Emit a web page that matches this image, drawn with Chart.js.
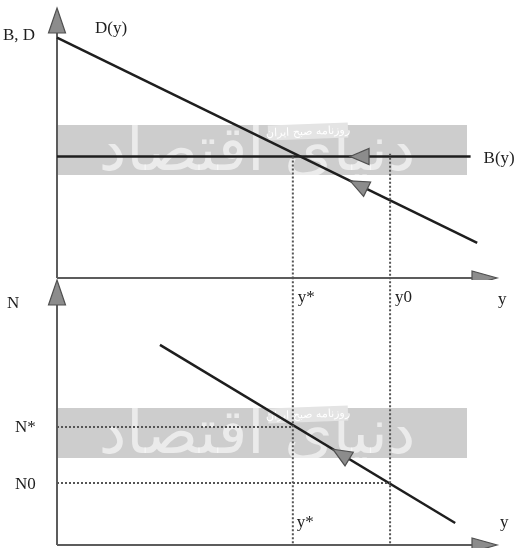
<!DOCTYPE html>
<html>
<head>
<meta charset="utf-8">
<script src="https://cdn.jsdelivr.net/npm/chart.js@4.4.1/dist/chart.umd.min.js"></script>
<style>
  body { margin: 0; background: #fff; }
  #wrap { position: relative; width: 525px; height: 548px; }
  canvas { position: absolute; left: 0; }
  #top { top: 0; }
  #bottom { top: 278px; }
</style>
</head>
<body>
<div id="wrap">
  <canvas id="top" width="525" height="280"></canvas>
  <canvas id="bottom" width="525" height="270"></canvas>
</div>
<script>
// values (x = output y, 0..100; vertical 0..100 per panel)
var demandX = [0, 95.5];
var demandV = [89, 13];
var benefitX = [0, 94];
var benefitV = [45, 45];
var yStar = 53.6, yZero = 75.7;

var nLineX = [23.4, 90.5];
var nLineV = [75.5, 8.3];
var nStar = 44.5, nZero = 23.4;

// where the little direction arrows sit on the lines (in x units)
var arrowB = 66.6, arrowD = 66.6, arrowN = 62.7;

var topLabels = ['y*', 'y0', 'y'];
var bottomLabels = ['N*', 'N0', 'y*', 'y'];

var FONT = '17px "Liberation Serif", "Times New Roman", serif';
var AXIS = '#5c5c5c';
var INK = '#1e1e1e';

function pts(xs, vs) {
    var out = [];
    for (var i = 0; i < xs.length; i++) out.push({x: xs[i], y: vs[i]});
    return out;
}

function lineSet(data, dashed) {
    return {
        data: data,
        showLine: true,
        borderColor: dashed ? '#555' : INK,
        borderWidth: dashed ? 2 : 2.5,
        borderDash: dashed ? [2, 2] : [],
        pointRadius: 0,
        clip: false
    };
}

function triangle(ctx, tx, ty, ang, len, half) {
    var bx = tx - Math.cos(ang) * len, by = ty - Math.sin(ang) * len;
    var nx = -Math.sin(ang) * half, ny = Math.cos(ang) * half;
    ctx.beginPath();
    ctx.moveTo(tx, ty);
    ctx.lineTo(bx + nx, by + ny);
    ctx.lineTo(bx - nx, by - ny);
    ctx.closePath();
    ctx.fillStyle = '#8c8c8c';
    ctx.fill();
    ctx.strokeStyle = '#505050';
    ctx.lineWidth = 1.2;
    ctx.stroke();
}

// arrow on a straight line, pointing back toward smaller x
function lineArrow(chart, xs, vs, at) {
    var sx = chart.scales.x, sv = chart.scales.y;
    var t = (at - xs[0]) / (xs[1] - xs[0]);
    var v = vs[0] + t * (vs[1] - vs[0]);
    var ang = Math.atan2(sv.getPixelForValue(vs[0]) - sv.getPixelForValue(vs[1]),
                         sx.getPixelForValue(xs[0]) - sx.getPixelForValue(xs[1]));
    triangle(chart.ctx, sx.getPixelForValue(at), sv.getPixelForValue(v), ang, 19, 8);
}

// grey band + logo text that sits behind the lines
function watermark(ctx, area, yTop, yBot) {
    ctx.save();
    ctx.fillStyle = '#cdcdcd';
    ctx.fillRect(area.left, yTop, 410, yBot - yTop);
    ctx.font = '62px "DejaVu Sans"';
    ctx.textAlign = 'center';
    ctx.textBaseline = 'middle';
    ctx.fillStyle = 'rgba(255,255,255,0.6)';
    ctx.fillText('دنیای اقتصاد', area.left + 200, (yTop + yBot) / 2 + 4, 360);
    ctx.translate(area.left + 251, yTop + 6);
    ctx.rotate(-0.04);
    ctx.fillStyle = '#e4e4e4';
    ctx.fillRect(-40, -7, 80, 15);
    ctx.fillStyle = '#ffffff';
    ctx.font = '11px "DejaVu Sans"';
    ctx.fillText('روزنامه صبح ایران', 0, 1);
    ctx.restore();
}

function axes(chart) {
    var ctx = chart.ctx, a = chart.chartArea;
    var x0 = chart.scales.x.getPixelForValue(0);
    var v0 = chart.scales.y.getPixelForValue(0);
    ctx.save();
    ctx.strokeStyle = AXIS;
    ctx.lineWidth = 2;
    ctx.beginPath();
    ctx.moveTo(x0, v0);
    ctx.lineTo(x0, a.top + 20);
    ctx.moveTo(x0, v0);
    ctx.lineTo(a.right - 20, v0);
    ctx.stroke();
    triangle(ctx, x0, a.top, -Math.PI / 2, 25, 8.5);
    triangle(ctx, a.right, v0, 0, 25, 7);
    ctx.restore();
}

function text(ctx, s, x, y) {
    ctx.font = FONT;
    ctx.fillStyle = INK;
    ctx.textAlign = 'left';
    ctx.textBaseline = 'alphabetic';
    ctx.fillText(s, x, y);
}

var topPlugin = {
    id: 'topPanel',
    beforeDatasetsDraw: function(chart) {
        watermark(chart.ctx, chart.chartArea, 125, 175);
        axes(chart);
    },
    afterDatasetsDraw: function(chart) {
        var ctx = chart.ctx, sx = chart.scales.x, sv = chart.scales.y;
        ctx.save();
        lineArrow(chart, benefitX, benefitV, arrowB);
        lineArrow(chart, demandX, demandV, arrowD);
        text(ctx, 'B, D', 3, 40);
        text(ctx, 'D(y)', 95, 33);
        text(ctx, 'B(y)', sx.getPixelForValue(benefitX[1]) + 13, sv.getPixelForValue(benefitV[1]) + 6);
        ctx.restore();
    }
};

var bottomPlugin = {
    id: 'bottomPanel',
    beforeDatasetsDraw: function(chart) {
        watermark(chart.ctx, chart.chartArea, 130, 180);
        axes(chart);
    },
    afterDatasetsDraw: function(chart) {
        var ctx = chart.ctx, sx = chart.scales.x, sv = chart.scales.y;
        ctx.save();
        lineArrow(chart, nLineX, nLineV, arrowN);
        // labels of the upper panel's x axis sit just under it
        var top = sv.getPixelForValue(100);
        text(ctx, topLabels[0], sx.getPixelForValue(yStar) + 5, top + 22);
        text(ctx, topLabels[1], sx.getPixelForValue(yZero) + 5, top + 22);
        text(ctx, topLabels[2], 498, top + 24);
        text(ctx, 'N', 7, top + 28);
        var base = sv.getPixelForValue(0);
        text(ctx, bottomLabels[0], 15, sv.getPixelForValue(nStar) + 5);
        text(ctx, bottomLabels[1], 15, sv.getPixelForValue(nZero) + 6);
        text(ctx, bottomLabels[2], sx.getPixelForValue(yStar) + 4, base - 18);
        text(ctx, bottomLabels[3], 500, base - 18);
        ctx.restore();
    }
};

function makeOptions(pad) {
    return {
        responsive: false,
        animation: false,
        devicePixelRatio: 1,
        layout: {padding: pad},
        plugins: {legend: {display: false}, tooltip: {enabled: false}},
        scales: {
            x: {type: 'linear', min: 0, max: 100, display: false},
            y: {type: 'linear', min: 0, max: 100, display: false}
        }
    };
}

new Chart(document.getElementById('top'), {
    type: 'scatter',
    data: {
        datasets: [
            lineSet(pts([yStar, yStar], [benefitV[0], 0]), true),
            lineSet(pts([yZero, yZero], [benefitV[0] + 1, 0]), true),
            lineSet(pts(benefitX, benefitV), false),
            lineSet(pts(demandX, demandV), false)
        ]
    },
    options: makeOptions({left: 57, right: 28, top: 8, bottom: 2}),
    plugins: [topPlugin]
});

new Chart(document.getElementById('bottom'), {
    type: 'scatter',
    data: {
        datasets: [
            lineSet(pts([yStar, yStar], [101, 0]), true),
            lineSet(pts([yZero, yZero], [101, 0]), true),
            lineSet(pts([0, yStar], [nStar, nStar]), true),
            lineSet(pts([0, yZero], [nZero, nZero]), true),
            lineSet(pts(nLineX, nLineV), false)
        ]
    },
    options: makeOptions({left: 57, right: 28, top: 2, bottom: 3}),
    plugins: [bottomPlugin]
});
</script>
</body>
</html>
